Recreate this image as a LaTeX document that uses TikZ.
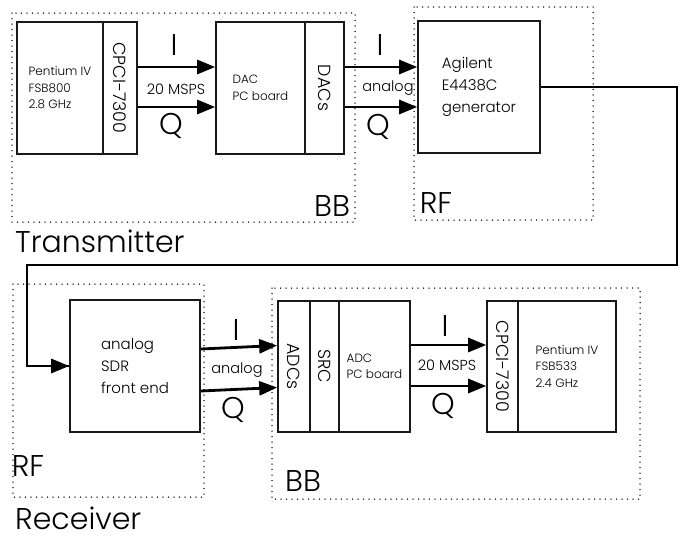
\documentclass[tikz,border=0pt]{standalone}
\usepackage{fontspec}
\setmainfont{Poppins}[UprightFont=* Light]
\usepackage{tikz}
\usetikzlibrary{arrows.meta,positioning,calc}

\begin{document}
\begin{tikzpicture}[
    x=1pt, y=-1pt,
    box/.style={draw=black!90, line width=1.6pt, minimum height=132pt, inner sep=0pt, align=left},
    smalltxt/.style={font=\fontsize{12}{16.5}\selectfont},
    midtxt/.style={font=\fontsize{15}{22}\selectfont},
    rottxt/.style={font=\fontsize{17.5}{17.5}\selectfont},
    biglabel/.style={font=\fontsize{30}{30}\selectfont, inner sep=0pt},
    ratelabel/.style={font=\fontsize{14.5}{14.5}\selectfont, inner sep=0pt},
    frame/.style={draw=black, line width=1.5pt, line cap=round, dash pattern=on 0pt off 5.5pt},
    sig/.style={line width=2.8pt, -{Triangle[length=18pt,width=14pt]}},
    wire/.style={line width=2.8pt}
]
    \useasboundingbox (0,0) rectangle (685,539);

    % Transmitter: baseband part
    \draw[frame] (12,13) rectangle (355,222);
    \node[box, smalltxt, minimum width=86pt] (pc_tx) at (60,88) {Pentium IV\\FSB800\\2.8 GHz};
    \node[box, rottxt, minimum width=34pt] (pci_tx) at (120,88) {\rotatebox{-90}{CPCI-7300}};
    \node[box, smalltxt, minimum width=89pt] (dac) at (260.5,88) {DAC\\PC board};
    \node[box, rottxt, minimum width=39pt] (dacs) at (324.5,88) {\rotatebox{-90}{DACs}};

    \node[biglabel] (i_tx) at (174,45) {I};
    \node[ratelabel] (rate_tx) at (176,89) {20 MSPS};
    \node[biglabel] (q_tx) at (171,126) {Q};
    \node[biglabel] (bb_tx) at (332,206) {BB};
    \node[biglabel, anchor=west] (lbl_tx) at (15,241) {Transmitter};

    \draw[sig] ([yshift=21pt]pci_tx.east) -- ([yshift=21pt]dac.west);
    \draw[sig] ([yshift=-19pt]pci_tx.east) -- ([yshift=-19pt]dac.west);

    % Transmitter: RF part
    \draw[frame] (414,7) rectangle (593,220);
    \node[box, midtxt, minimum width=122pt] (gen) at (479,87) {Agilent\\E4438C\\generator};

    \node[biglabel] (i_rf) at (380,45) {I};
    \node[ratelabel] (ana_tx) at (388,88) {analog};
    \node[biglabel] (q_rf) at (378,127) {Q};
    \node[biglabel] (rf_tx) at (436,203) {RF};

    \draw[sig] ([yshift=21pt]dacs.east) -- ([yshift=20pt]gen.west);
    \draw[sig] ([yshift=-19pt]dacs.east) -- ([yshift=-20pt]gen.west);

    % Receiver: RF part
    \draw[frame] (13,284) rectangle (204,497);
    \node[box, midtxt, minimum width=130pt] (sdr) at (135,366) {analog\\SDR\\front end};

    \node[biglabel] (i_sdr) at (236,330) {I};
    \node[ratelabel] (ana_rx) at (237,370) {analog};
    \node[biglabel] (q_sdr) at (233,410) {Q};
    \node[biglabel] (rf_rx) at (28,466) {RF};
    \node[biglabel, anchor=west] (lbl_rx) at (15,518) {Receiver};

    % Receiver: baseband part
    \draw[frame] (272,288) rectangle (640,499);
    \node[box, rottxt, minimum width=32pt, minimum height=131pt] (adcs) at (294,366.5) {\rotatebox{-90}{ADCs}};
    \node[box, rottxt, minimum width=29pt, minimum height=131pt] (src) at (324.5,366.5) {\rotatebox{-90}{SRC}};
    \node[box, smalltxt, minimum width=71pt, minimum height=131pt] (adc) at (374.5,366.5) {ADC\\PC board};
    \node[box, rottxt, minimum width=31pt, minimum height=131pt] (pci_rx) at (502.5,366.5) {\rotatebox{-90}{CPCI-7300}};
    \node[box, smalltxt, minimum width=98pt, minimum height=131pt] (pc_rx) at (567,366.5) {Pentium IV\\FSB533\\2.4 GHz};

    \node[biglabel] (i_rx) at (445,326) {I};
    \node[ratelabel] (rate_rx) at (447,365) {20 MSPS};
    \node[biglabel] (q_rx) at (443,406) {Q};
    \node[biglabel] (bb_rx) at (303,481) {BB};

    \draw[sig] ([yshift=17pt]sdr.east) -- ([yshift=21pt]adcs.west);
    \draw[sig] ([yshift=-25pt]sdr.east) -- ([yshift=-21pt]adcs.west);
    \draw[sig] ([yshift=21.5pt]adc.east) -- ([yshift=21.5pt]pci_rx.west);
    \draw[sig] ([yshift=-19.5pt]adc.east) -- ([yshift=-19.5pt]pci_rx.west);

    % RF link from generator to front end
    \coordinate (loop_r) at (677,265);
    \coordinate (loop_l) at (27,265);
    \draw[wire] (gen.east) -| (loop_r) -- (loop_l) |- (sdr.west);
    \draw[sig] ($(sdr.west)+(-14,0)$) -- (sdr.west);

\end{tikzpicture}
\end{document}
